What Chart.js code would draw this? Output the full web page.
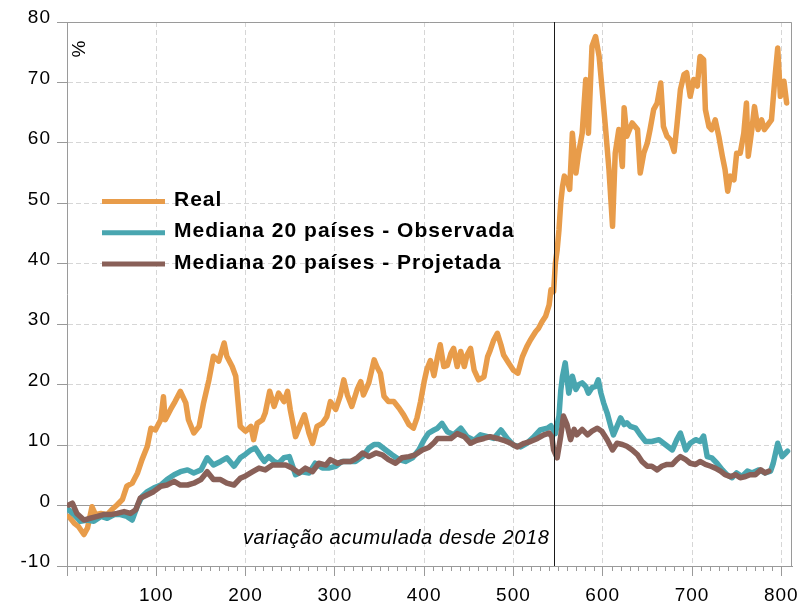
<!DOCTYPE html>
<html>
<head>
<meta charset="utf-8">
<script src="https://cdn.jsdelivr.net/npm/chart.js@4.4.1/dist/chart.umd.min.js"></script>
<style>
  html, body { margin: 0; padding: 0; background: #fff; }
  #wrap { width: 812px; height: 604px; }
</style>
</head>
<body>
<div id="wrap"><canvas id="grafico" width="812" height="604"></canvas></div>
<script>
// variação acumulada desde 2018 (%), por dia útil
var diasReal = [2,8,13,19,23,28,32,38,45,50,56,62,67,73,79,84,90,94,99,105,108,110,116,121,127,133,136,142,148,153,159,164,170,176,179,185,189,194,200,206,209,213,219,222,227,232,237,243,247,250,256,262,266,271,275,280,286,291,295,301,306,310,314,319,325,329,332,338,344,347,351,355,360,366,372,377,383,388,392,396,400,403,407,411,415,418,422,426,430,433,437,441,445,448,452,456,461,467,471,474,478,482,486,489,495,500,505,510,515,519,525,528,532,536,540,542,545,547,549,551,553,555,557,560,563,566,570,573,577,581,584,588,592,596,599,603,607,611,614,618,622,624,627,633,639,642,646,650,653,657,661,665,668,672,676,680,683,687,691,694,698,702,706,709,713,715,719,722,726,730,734,737,740,743,747,750,754,758,761,763,767,770,774,778,781,785,789,793,796,799,803,806];
var real = [-1.8,-2.9,-3.5,-4.8,-3.7,-0.2,-1.5,-1.3,-1.5,-0.7,0.1,1,3.2,3.7,5.4,7.6,9.8,12.8,12.5,14.2,18,14.2,15.9,17.2,18.9,17,14.2,12,13.1,17,20.8,24.7,23.9,26.9,24.7,23,21.4,13.1,12.3,13.1,10.9,13.6,14.2,15.3,18.9,16.4,18.6,17.2,18.9,15.9,11.4,13.6,15,12,10.3,13.1,13.6,14.7,17.2,15.9,18.1,20.8,18.3,16.4,19.2,20.5,18.3,20.3,24.1,23,21.9,18.1,17.2,17.2,16.1,15,13.4,12.8,14.5,17.2,20.5,22.5,24,21.5,24.6,26.6,23,23.2,25.2,26,23,25.5,23,24.9,26,22.4,20.8,21.3,24.6,25.7,27.4,28.5,26.6,24.9,23.5,22.4,21.9,24.6,26.3,27.4,28.8,29.3,30.4,31.3,33.2,35.7,35.4,40.1,42.3,45.6,50.1,52.8,54.5,53.9,52.3,61.6,55,58.3,61.6,70.5,61.6,76,77.6,74.3,69.4,62.7,55.6,46.2,58.3,62.2,56.1,65.8,61.1,63.3,62.2,55,58.3,60,62.2,65.5,66.6,69.9,62.7,61.1,60.5,58.6,62.7,68.8,71.3,71.6,67.7,70.5,69.4,74.3,73.8,65.5,62.7,62.2,63.8,61.1,57.8,55.6,52,54.5,53.9,58.3,58.3,61.6,66.6,57.8,62.2,66,62.2,63.8,62.2,63,63.8,71,75.7,67.7,70.2,66.6];

var diasObservada = [2,8,15,23,30,38,45,53,60,67,73,79,84,90,97,105,112,120,127,135,142,150,157,164,172,179,187,194,200,206,211,217,221,226,232,237,243,249,256,263,271,278,286,293,301,308,316,323,331,338,344,349,357,364,372,379,387,394,400,405,411,415,420,426,433,441,448,456,463,471,478,486,493,500,508,515,523,530,538,542,547,551,553,555,558,562,566,570,573,577,581,584,588,592,595,598,601,605,609,612,616,620,624,627,631,637,642,648,655,663,670,678,683,687,693,698,704,709,713,717,722,728,734,739,745,750,756,762,767,775,782,788,791,796,801,805,807];
var observada = [-0.7,-1.5,-2.6,-2.4,-2.6,-1.8,-2.1,-1.5,-1.5,-1.8,-2.4,0,1.5,2.3,2.9,3.4,4.3,5.1,5.6,5.9,5.4,5.9,7.9,6.7,7.3,7.9,6.5,7.9,8.5,9.2,9.5,8.1,7.3,8.1,7.3,7,7.9,8.1,5.1,5.6,5.4,7,6.2,6.2,6.5,7.3,7.3,7.3,8.1,9.5,10.1,10.1,9.2,8.4,7.6,7.3,7.9,9.2,10.9,12,12.5,12.8,13.6,12.2,11.7,12.8,11.4,10.8,11.7,11.4,11.1,12.5,11.1,10,9.7,10.3,11.4,12.5,12.8,13.2,11.9,14.8,19,21.4,23.6,18.6,21.4,19.2,20,20.3,19.7,18.6,19.5,19.7,20.8,18.6,17,15.3,13.1,11.7,13.1,14.5,13.4,13.7,13.1,12.8,11.7,10.6,10.6,10.9,10.1,9.2,10.9,12,9.2,10.3,10.9,10.6,11.5,8.1,7.9,7,5.9,5.1,4.6,5.4,4.8,5.7,5.4,5.9,5.4,5.7,7,10.3,8.1,8.7,9];

var diasProjetada = [2,6,11,19,26,34,41,49,56,64,71,77,82,90,97,105,112,120,127,135,142,150,157,164,172,179,187,194,200,208,215,222,230,237,245,252,260,267,275,282,290,295,303,310,318,325,331,338,346,353,360,368,375,383,390,398,405,411,415,422,430,437,445,452,459,467,474,482,489,497,504,512,519,527,534,540,543,545,549,553,556,560,564,568,571,577,583,588,594,599,605,611,616,622,627,633,639,644,650,655,661,666,672,678,683,687,693,698,704,709,715,721,726,732,737,743,749,754,760,765,771,777,782,786];
var projetada = [0.1,0.4,-1.3,-2.4,-2.1,-1.8,-1.5,-1.5,-1.3,-1,-1.3,-0.7,1.2,1.8,2.3,3.2,3.4,4,3.4,3.4,3.7,4.3,5.6,4.3,4.3,3.7,3.4,4.5,4.9,5.6,6.2,5.9,6.7,6.7,6.7,6.2,5.4,6.2,5.6,7,6.7,7.6,7,7.3,7.3,7.9,8.7,8.1,8.7,8.4,7.6,7,7.9,8.1,8.4,9.2,9.6,10.4,11.1,11.1,11.1,11.9,11.4,10.3,10.8,11.1,11.4,11.1,10.8,10.3,9.7,10.3,10.6,11.1,11.7,12,11.4,9.2,7.9,11.5,14.8,13.4,10.9,12.6,11.7,12.6,11.7,12.3,12.8,12.3,10.9,9.2,10.3,10.1,9.8,9.2,8.4,7.3,6.5,6.5,5.9,6.5,6.8,6.8,7.6,8.1,7.6,7,6.8,7.3,6.8,6.5,6.2,5.7,5.1,4.8,5.1,4.6,4.8,5.1,5.1,5.9,5.4,5.7];

var marco = 545; // linha vertical
var nota = 'variação acumulada desde 2018';
var unidade = '%';

var fonte = "'Liberation Sans', Arial, sans-serif";

function pares(dias, valores) {
    return dias.map(function (d, i) { return { x: d, y: valores[i] }; });
}

var extras = {
    id: 'extras',
    beforeDraw: function (chart) {
        chart.ctx.letterSpacing = '1px';
    },
    afterDatasetsDraw: function (chart) {
        var ctx = chart.ctx;
        var area = chart.chartArea;
        var xs = chart.scales.x;
        var px = Math.round(xs.getPixelForValue(marco)) + 0.5;

        ctx.save();
        // moldura superior e direita
        ctx.strokeStyle = '#9a9a9a';
        ctx.lineWidth = 1;
        ctx.beginPath();
        ctx.moveTo(area.left, area.top + 0.5);
        ctx.lineTo(area.right - 0.5, area.top + 0.5);
        ctx.lineTo(area.right - 0.5, area.bottom);
        ctx.stroke();

        // linha vertical
        ctx.strokeStyle = '#1a1a1a';
        ctx.beginPath();
        ctx.moveTo(px, area.top);
        ctx.lineTo(px, area.bottom);
        ctx.stroke();

        // nota em itálico
        ctx.letterSpacing = '0.6px';
        ctx.fillStyle = '#000';
        ctx.font = 'italic 20px ' + fonte;
        ctx.textAlign = 'right';
        ctx.textBaseline = 'alphabetic';
        ctx.fillText(nota, px - 5, area.bottom - 22);

        // unidade
        ctx.letterSpacing = '0px';
        ctx.font = '19px ' + fonte;
        ctx.translate(area.left + 13, area.top + 27);
        ctx.rotate(-Math.PI / 2);
        ctx.textAlign = 'center';
        ctx.textBaseline = 'middle';
        ctx.fillText(unidade, 0, 0);
        ctx.restore();
    },
    afterDraw: function (chart) {
        var ctx = chart.ctx;
        var area = chart.chartArea;
        var xs = chart.scales.x;

        ctx.save();
        // ticks menores do eixo x
        ctx.strokeStyle = '#9a9a9a';
        ctx.lineWidth = 1;
        ctx.beginPath();
        xs.ticks.forEach(function (t) {
            if (t.value % 10 === 0 && t.value % 100 !== 0) {
                var p = Math.round(xs.getPixelForValue(t.value)) + 0.5;
                ctx.moveTo(p, area.bottom);
                ctx.lineTo(p, area.bottom + 5);
            }
        });
        ctx.stroke();

        // legenda
        ctx.letterSpacing = '1px';
        ctx.font = 'bold 21px ' + fonte;
        ctx.textAlign = 'left';
        ctx.textBaseline = 'alphabetic';
        chart.data.datasets.forEach(function (ds, i) {
            var base = area.top + 184 + i * 31.3;
            ctx.strokeStyle = ds.borderColor;
            ctx.lineWidth = 5;
            ctx.beginPath();
            ctx.moveTo(area.left + 35, base - 4.5);
            ctx.lineTo(area.left + 98, base - 4.5);
            ctx.stroke();
            ctx.fillStyle = '#000';
            ctx.fillText(ds.label, area.left + 107, base);
        });
        ctx.restore();
    }
};

var ctx = document.getElementById('grafico').getContext('2d');
var chart = new Chart(ctx, {
    type: 'line',
    data: {
        datasets: [{
            label: 'Real',
            data: pares(diasReal, real),
            borderColor: '#E89C4A',
            borderWidth: 5.5,
            order: 3
        }, {
            label: 'Mediana 20 países - Observada',
            data: pares(diasObservada, observada),
            borderColor: '#49A6B0',
            borderWidth: 5.5,
            order: 2
        }, {
            label: 'Mediana 20 países - Projetada',
            data: pares(diasProjetada, projetada),
            borderColor: '#896058',
            borderWidth: 5.5,
            order: 1
        }]
    },
    options: {
        responsive: false,
        animation: false,
        devicePixelRatio: 1,
        layout: { padding: { top: 22, right: 20, left: 0, bottom: 0 } },
        elements: {
            point: { radius: 0 },
            line: { tension: 0, borderJoinStyle: 'round', borderCapStyle: 'round', fill: false }
        },
        plugins: {
            legend: { display: false },
            tooltip: { enabled: false }
        },
        scales: {
            x: {
                type: 'linear',
                min: 0,
                max: 812,
                afterFit: function (s) { s.height = 38; },
                ticks: {
                    stepSize: 10,
                    autoSkip: false,
                    maxRotation: 0,
                    padding: 8,
                    color: '#000',
                    font: { family: fonte, size: 19 },
                    callback: function (v) { return (v % 100 === 0 && v > 0) ? String(v) : ''; }
                },
                grid: {
                    color: function (c) { return (c.tick && c.tick.value % 100 === 0 && c.tick.value > 0) ? '#d6d6d6' : 'rgba(0,0,0,0)'; },
                    tickColor: function (c) { return (c.tick && c.tick.value % 100 === 0) ? '#9a9a9a' : 'rgba(0,0,0,0)'; },
                    tickLength: 10
                },
                border: {
                    color: '#9a9a9a',
                    dash: function (c) { return c.type === 'tick' ? [5, 3] : []; }
                }
            },
            y: {
                min: -10,
                max: 80,
                afterFit: function (s) { s.width = 67; },
                ticks: {
                    stepSize: 10,
                    padding: 6,
                    labelOffset: -4,
                    color: '#000',
                    font: { family: fonte, size: 19 }
                },
                grid: {
                    color: function (c) { return (c.tick && c.tick.value === 0) ? '#9a9a9a' : '#d6d6d6'; },
                    tickColor: '#9a9a9a',
                    tickLength: 10
                },
                border: {
                    color: '#9a9a9a',
                    dash: function (c) { return (c.type === 'tick' && c.tick.value !== 0) ? [5, 3] : []; }
                }
            }
        }
    },
    plugins: [extras]
});
</script>
</body>
</html>
